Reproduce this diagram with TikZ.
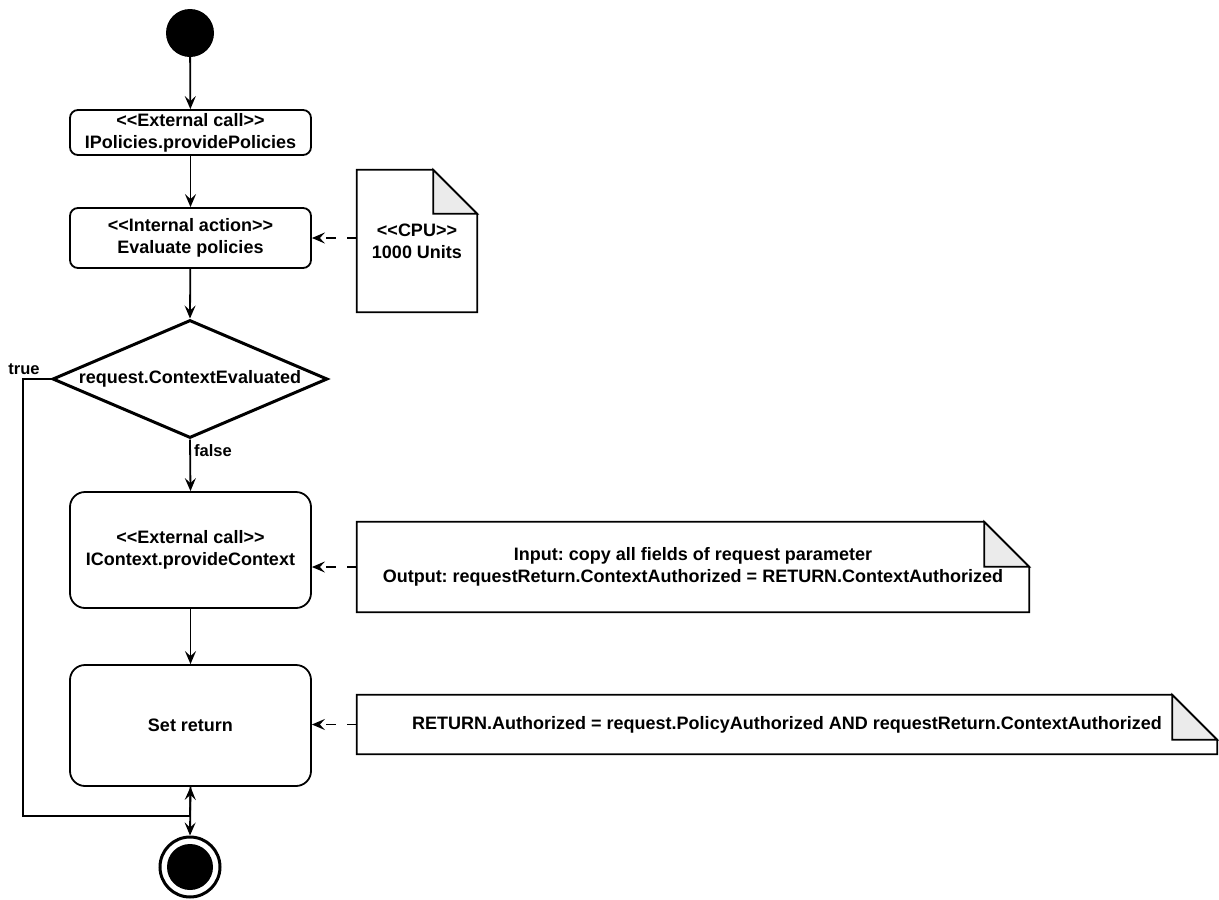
\documentclass[tikz,border=0pt]{standalone}
\usepackage{fontspec}
\setmainfont{Liberation Sans}
\usetikzlibrary{arrows.meta, positioning, calc, shapes.geometric}
\definecolor{foldgray}{HTML}{EBEBEB}
\frenchspacing

% note with folded corner, drawn round a named node
\newcommand{\notefold}[2]{%
  \draw[line width=1.8pt] (#1.north west) -- ($(#1.north east)+(-#2,0)$) -- ($(#1.north east)+(0,#2)$) -- (#1.south east) -- (#1.south west) -- cycle;
  \filldraw[line width=1.8pt, fill=foldgray] ($(#1.north east)+(-#2,0)$) -- ($(#1.north east)+(-#2,#2)$) -- ($(#1.north east)+(0,#2)$) -- cycle;}
\newcommand{\stereo}[1]{<\kern0pt<#1>\kern0pt>}

\begin{document}
\begin{tikzpicture}[x=1pt, y=-1pt, font=\bfseries\fontsize{18}{22}\selectfont,
  act/.style={draw, line width=1.8pt, rounded corners=8pt, minimum width=241pt, inner sep=0pt, align=center},
  note/.style={inner sep=0pt, align=center},
  flow/.style={-{Stealth[length=13pt, width=11pt, inset=5pt]}, line width=1.8pt},
  dep/.style={flow, dash pattern=on 10pt off 11pt},
  lbl/.style={font=\bfseries\fontsize{16.5}{19}\selectfont}]
  \useasboundingbox (0,0) rectangle (1219,900);

  \node[circle, fill, minimum size=48pt, inner sep=0pt] (start) at (190,33) {};
  \node[act, minimum height=45pt] (policies) at (190.5,132.5) {\stereo{External call}\\IPolicies.providePolicies};
  \node[act, minimum height=60pt] (evaluate) at (190.5,238) {\stereo{Internal action}\\Evaluate policies};
  \node[note, minimum width=120pt, minimum height=142pt] (cpu) at (417,241) {\stereo{CPU}\\1000 Units};
  \notefold{cpu}{44}

  \node[diamond, draw, line width=3pt, aspect=2.33, minimum width=275pt, minimum height=118pt, inner sep=0pt] (check) at (190,379) {};
  \node (checktext) at (check) {request.ContextEvaluated};

  \node[act, rounded corners=15pt, minimum height=116pt] (context) at (190.5,550) {\stereo{External call}\\IContext.provideContext};
  \node[note, minimum width=672pt, minimum height=90pt] (mapping) at (693,567) {Input: copy all fields of request parameter\\Output: requestReturn.ContextAuthorized = RETURN.ContextAuthorized};
  \notefold{mapping}{45}

  \node[act, rounded corners=15pt, minimum height=121pt] (setreturn) at (190.5,725.5) {Set return};
  \node[note, minimum width=860pt, minimum height=59pt] (result) at (787,724.5) {RETURN.Authorized = request.PolicyAuthorized AND requestReturn.ContextAuthorized};
  \notefold{result}{45}

  \node[circle, draw, line width=3pt, minimum size=60pt, inner sep=0pt,
    path picture={\fill (path picture bounding box.center) circle (23pt);}] (stop) at (190,867) {};
  \coordinate (join) at (190,816);

  \draw[flow] (start) -- (policies);
  \draw[flow] (policies) -- (evaluate);
  \draw[flow] (evaluate) -- (check.north);
  \draw[flow] (check.south) -- (context.north) node[lbl, pos=0, below right, yshift=-1pt] {false};
  \draw[flow] (context) -- (setreturn);
  \draw[flow] (check.west) -- ++(-28,0) node[lbl, above, xshift=1pt] {true} |- (join) -- (setreturn.south);
  \draw[flow] (setreturn.south) -- (stop.north);

  \draw[dep] (cpu.west |- evaluate) -- (evaluate.east);
  \draw[dep] (mapping.west) -- (context.east |- mapping.west);
  \draw[dep] (result.west) -- (setreturn.east |- result.west);
\end{tikzpicture}
\end{document}
